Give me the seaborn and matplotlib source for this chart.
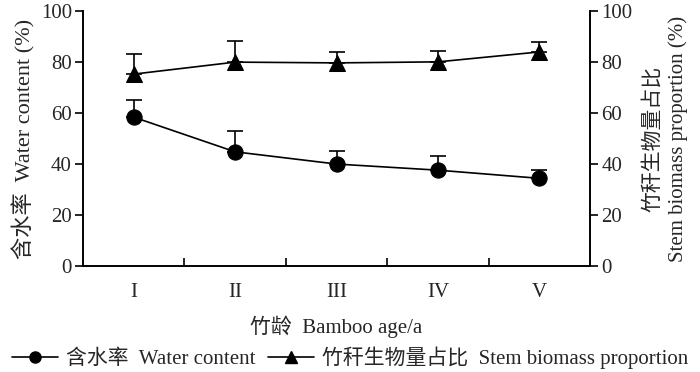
import numpy as np
import pandas as pd
import matplotlib
matplotlib.use("Agg")
import matplotlib.pyplot as plt
import seaborn as sns
from matplotlib.lines import Line2D

ages = ["I", "II", "III", "IV", "V"]
water = [58.4, 44.8, 40.0, 37.6, 34.4]
water_err = [6.8, 8.0, 5.2, 5.5, 3.1]
stem = [75.3, 80.0, 79.7, 80.1, 84.0]
stem_err = [7.7, 8.2, 4.1, 4.3, 4.0]

sns.set_theme(style="ticks")
plt.rcParams['font.family'] = ['Liberation Serif', 'Noto Sans CJK SC']
plt.rcParams['axes.unicode_minus'] = False

fs = 15
fig = plt.figure(figsize=(7, 3.72), dpi=100)
ax = fig.add_axes([0.1186, 0.285, 0.7243, 0.685])
ax2 = ax.twinx()

x = np.arange(len(ages))
df = pd.DataFrame({"x": x, "water": water, "stem": stem})

sns.lineplot(data=df, x="x", y="water", ax=ax, color="black", marker="o",
             markersize=11, markeredgecolor="black", linewidth=1.2, zorder=3)
ax.errorbar(x, water, yerr=[np.zeros(len(x)), water_err], fmt="none",
            ecolor="black", elinewidth=1.2, capsize=6, capthick=1.2, zorder=2)

sns.lineplot(data=df, x="x", y="stem", ax=ax2, color="black", marker="^",
             markersize=11, markeredgecolor="black", linewidth=1.2, zorder=3)
ax2.errorbar(x, stem, yerr=[np.zeros(len(x)), stem_err], fmt="none",
             ecolor="black", elinewidth=1.2, capsize=6, capthick=1.2, zorder=2)

for a in (ax, ax2):
    a.set_xlim(-0.5, 4.5)
    a.set_ylim(0, 100)
    a.set_yticks([0, 20, 40, 60, 80, 100])
    for s in a.spines.values():
        s.set_linewidth(1.2)
        s.set_color("black")

ax.spines["top"].set_visible(False)
ax2.spines["top"].set_visible(False)

ax.set_xticks([0.5, 1.5, 2.5, 3.5])
ax.set_xticklabels([])
ax.set_xticks(x, minor=True)
ax.set_xticklabels(ages, minor=True, fontsize=fs)
ax.tick_params(axis="x", which="major", direction="in", length=6, width=1.2, color="black")
ax.tick_params(axis="x", which="minor", length=0, pad=12)
ax.tick_params(axis="y", direction="out", length=6, width=1.2, labelsize=fs, color="black", pad=2)
ax2.tick_params(axis="y", direction="out", length=6, width=1.2, labelsize=fs, color="black", pad=2)

ax.set_xlabel("竹龄  Bamboo age/a", fontsize=fs, labelpad=10)
ax.set_ylabel("含水率  Water content (%)", fontsize=16, labelpad=4)
ax2.set_ylabel("竹秆生物量占比\nStem biomass proportion (%)", fontsize=fs, labelpad=8,
               linespacing=1.35)

handles = [
    Line2D([0], [0], color="black", marker="o", markersize=8, linewidth=1.2),
    Line2D([0], [0], color="black", marker="^", markersize=8, linewidth=1.2),
]
labels = ["含水率  Water content", "竹秆生物量占比  Stem biomass proportion"]
fig.legend(handles, labels, loc="center", bbox_to_anchor=(0.5, 0.038), ncol=2,
           frameon=False, fontsize=fs, handlelength=2.2, handletextpad=0.4,
           columnspacing=0.6, borderaxespad=0)

fig.savefig("out.png", dpi=100)
